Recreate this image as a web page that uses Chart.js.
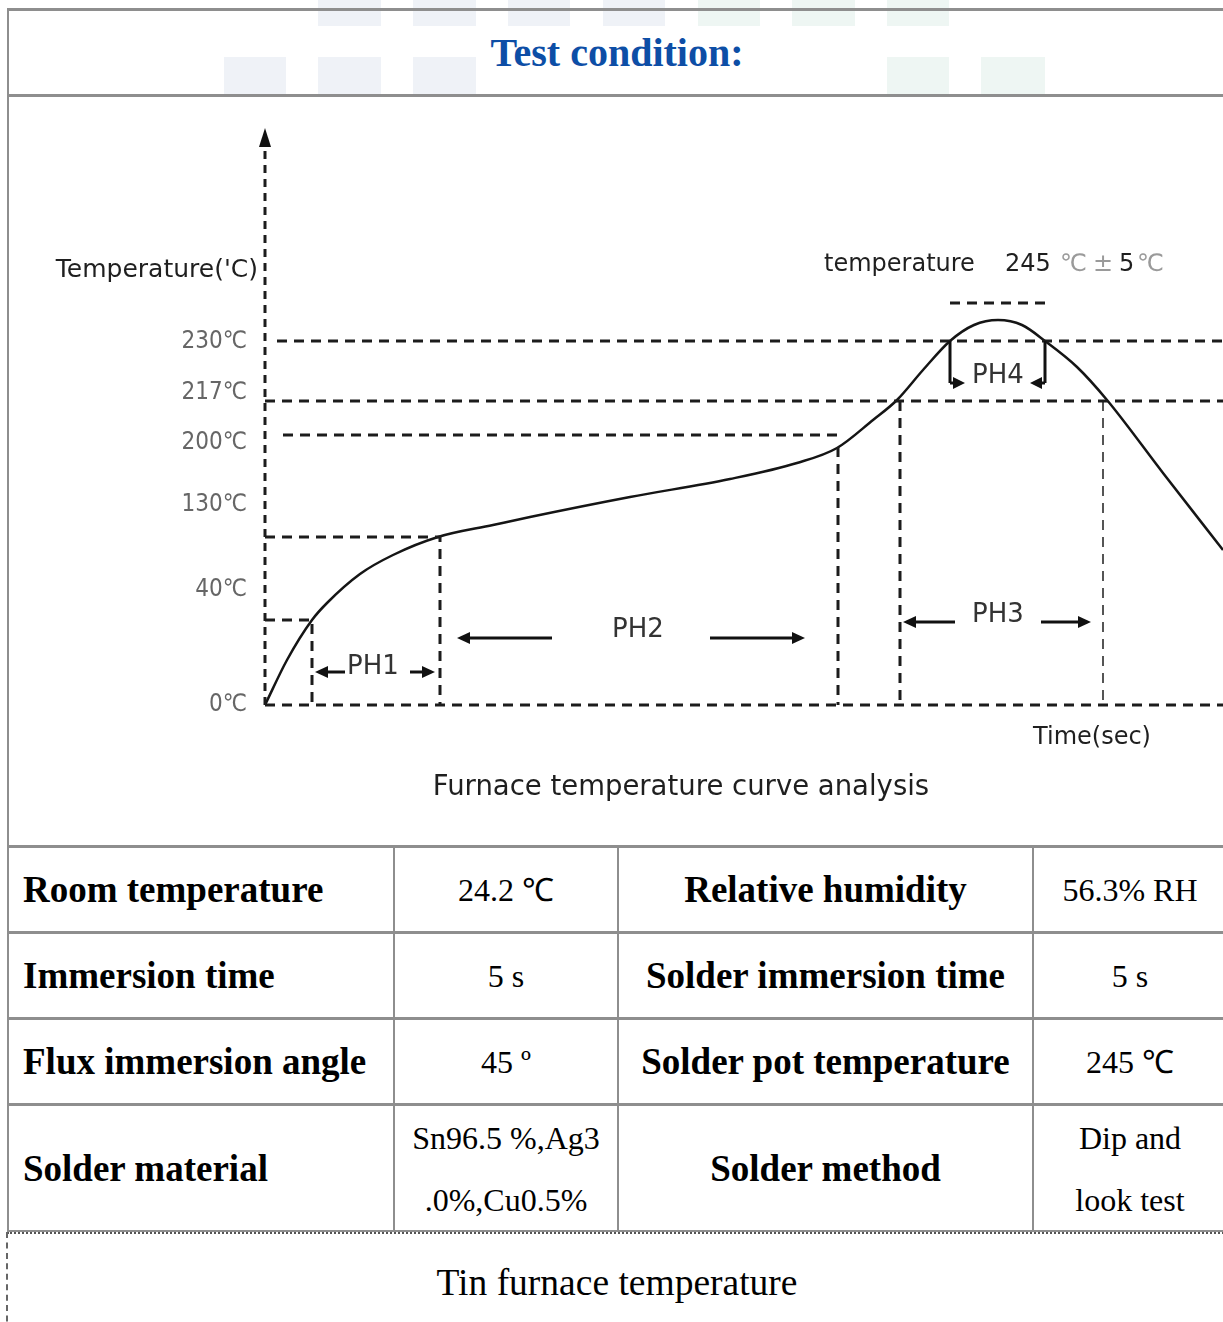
<!DOCTYPE html>
<html>
<head>
<meta charset="utf-8">
<title>Test condition</title>
<script src="https://cdn.jsdelivr.net/npm/chart.js@4.4.1/dist/chart.umd.min.js"></script>
<style>
  html, body { margin: 0; padding: 0; background: #fff; overflow: hidden; }
  body { position: relative; width: 1223px; height: 1322px; font-family: "Liberation Serif", "Times New Roman", serif; }
  .mark { position: absolute; background: #eff2f7; }
  .mark.g { background: #eef6f3; }
  .h { position: absolute; left: 7px; width: 1240px; height: 3px; background: #8e8e8e; }
  .v { position: absolute; width: 2px; background: #8e8e8e; }
  .cell { position: absolute; display: flex; flex-direction: column; align-items: center; justify-content: center;
          text-align: center; color: #000; font-size: 32px; line-height: 62px; }
  .cell.lab { align-items: flex-start; padding-left: 16px; box-sizing: border-box; font-weight: bold; font-size: 37px; }
  .cell.b { font-weight: bold; font-size: 37px; }
  #title { position: absolute; left: 7px; top: 11px; width: 1220px; height: 83px; display: flex; align-items: center;
           justify-content: center; font-weight: bold; font-size: 40px; color: #0d4ea6; }
  #chartBox { position: absolute; left: 0; top: 98px; width: 1223px; height: 746px; }
  #foot { position: absolute; left: 7px; top: 1234px; width: 1220px; height: 98px; display: flex; align-items: center;
          justify-content: center; font-size: 37.5px; padding-bottom: 2px; box-sizing: border-box; }
  #footTop { position: absolute; left: 7px; top: 1232px; width: 1240px; height: 0; border-top: 2px dotted #555; }
  #footLeft { position: absolute; left: 6px; top: 1232px; width: 0; height: 100px; border-left: 2px dashed #666; }
</style>
</head>
<body>

<!-- faint watermark blocks -->
<div class="mark" style="left:318px;top:0;width:63px;height:26px"></div>
<div class="mark" style="left:413px;top:0;width:63px;height:26px"></div>
<div class="mark" style="left:508px;top:0;width:62px;height:26px"></div>
<div class="mark" style="left:603px;top:0;width:62px;height:26px"></div>
<div class="mark g" style="left:698px;top:0;width:62px;height:26px"></div>
<div class="mark g" style="left:792px;top:0;width:63px;height:26px"></div>
<div class="mark g" style="left:887px;top:0;width:62px;height:26px"></div>
<div class="mark" style="left:224px;top:57px;width:62px;height:40px"></div>
<div class="mark" style="left:318px;top:57px;width:63px;height:40px"></div>
<div class="mark" style="left:413px;top:57px;width:63px;height:40px"></div>
<div class="mark g" style="left:887px;top:57px;width:62px;height:40px"></div>
<div class="mark g" style="left:981px;top:57px;width:64px;height:40px"></div>

<div id="title">Test condition:</div>

<div id="chartBox"><canvas id="furnace"></canvas></div>

<div class="cell lab" style="left:7px;top:848px;width:387px;height:84px">Room temperature</div>
<div class="cell" style="left:394px;top:848px;width:224px;height:84px">24.2 ℃</div>
<div class="cell b" style="left:618px;top:848px;width:415px;height:84px">Relative humidity</div>
<div class="cell" style="left:1033px;top:848px;width:194px;height:84px">56.3% RH</div>

<div class="cell lab" style="left:7px;top:934px;width:387px;height:84px">Immersion time</div>
<div class="cell" style="left:394px;top:934px;width:224px;height:84px">5 s</div>
<div class="cell b" style="left:618px;top:934px;width:415px;height:84px">Solder immersion time</div>
<div class="cell" style="left:1033px;top:934px;width:194px;height:84px">5 s</div>

<div class="cell lab" style="left:7px;top:1020px;width:387px;height:84px">Flux immersion angle</div>
<div class="cell" style="left:394px;top:1020px;width:224px;height:84px">45 º</div>
<div class="cell b" style="left:618px;top:1020px;width:415px;height:84px">Solder pot temperature</div>
<div class="cell" style="left:1033px;top:1020px;width:194px;height:84px">245 ℃</div>

<div class="cell lab" style="left:7px;top:1106px;width:387px;height:126px">Solder material</div>
<div class="cell" style="left:394px;top:1106px;width:224px;height:126px"><span>Sn96.5 %,Ag3</span><span>.0%,Cu0.5%</span></div>
<div class="cell b" style="left:618px;top:1106px;width:415px;height:126px">Solder method</div>
<div class="cell" style="left:1033px;top:1106px;width:194px;height:126px"><span>Dip and</span><span>look test</span></div>

<div id="foot">Tin furnace temperature</div>

<!-- table rules -->
<div class="h" style="top:8px"></div>
<div class="h" style="top:94px"></div>
<div class="h" style="top:845px"></div>
<div class="h" style="top:931px"></div>
<div class="h" style="top:1017px"></div>
<div class="h" style="top:1103px"></div>
<div class="h" style="top:1230px;height:2px"></div>
<div class="v" style="left:7px;top:8px;height:1224px"></div>
<div class="v" style="left:393px;top:845px;height:387px"></div>
<div class="v" style="left:617px;top:845px;height:387px"></div>
<div class="v" style="left:1032px;top:845px;height:387px"></div>
<div id="footTop"></div>
<div id="footLeft"></div>

<script>
// furnace profile in schematic units: time along x, height above the 0℃ line along y
const curveTime = [0, 22, 47, 62, 95, 128, 173, 228, 265, 365, 465, 532, 572, 608, 632, 658, 685, 709, 733, 757, 780, 812, 842, 898, 958];
const curveTemp = [0, 45, 85, 102, 131, 150, 168, 180, 188, 208, 226, 242, 257, 285, 305, 335, 364, 380, 385, 380, 364, 338, 305, 232, 155];

// y axis tick levels and labels
const tickLevels = [0, 115, 200, 262, 312, 363];
const tickLabels = ['0℃', '40℃', '130℃', '200℃', '217℃', '230℃'];

// dashed axes and guide lines [time, level]
const axisY = [[0, 0], [0, 560]];
const axisX = [[0, 0], [958, 0]];
const line230 = [[12, 364], [958, 364]];
const line217 = [[0, 304], [958, 304]];
const line200 = [[18, 270], [573, 270]];
const ph1Box = [[0, 85], [47, 85], [47, 0]];
const ph2Box = [[0, 168], [175, 168], [175, 0]];
const soakEnd = [[573, 258], [573, 0]];
const reflowStart = [[635, 304], [635, 0]];
const reflowEnd = [[838, 304], [838, 0]];
const peakCap = [[685, 402], [785, 402]];

// phase labels and arrows
const phNames = ['PH1', 'PH2', 'PH3', 'PH4'];
const phLabelAt = [[108, 38], [373, 75], [733, 90], [733, 329]];
const phArrows = [
  [80, 33, 50, 33], [145, 33, 170, 33],
  [287, 67, 192, 67], [445, 67, 540, 67],
  [690, 83, 638, 83], [776, 83, 826, 83]
];
const ph4Brackets = [
  [[685, 364], [685, 322], [700, 322]],
  [[780, 364], [780, 322], [765, 322]]
];

const pts = arr => arr.map(p => ({ x: p[0], y: p[1] }));
const dashed = (arr, w, c, dash) => ({
  data: pts(arr), borderColor: c || '#1c1c1c', borderWidth: w || 3, borderDash: dash || [10, 7],
  pointRadius: 0, tension: 0, fill: false, clip: false
});

const curve = {
  data: curveTime.map((t, i) => ({ x: t, y: curveTemp[i] })),
  borderColor: '#151515', borderWidth: 2.5, pointRadius: 0,
  cubicInterpolationMode: 'monotone', fill: false
};

const sans = '"DejaVu Sans", Verdana, sans-serif';

function arrow(ctx, x1, y1, x2, y2, head) {
  const a = Math.atan2(y2 - y1, x2 - x1);
  ctx.beginPath();
  ctx.moveTo(x1, y1);
  ctx.lineTo(x2 - Math.cos(a) * head * 0.6, y2 - Math.sin(a) * head * 0.6);
  ctx.stroke();
  ctx.beginPath();
  ctx.moveTo(x2, y2);
  ctx.lineTo(x2 - head * Math.cos(a) + 6 * Math.sin(a), y2 - head * Math.sin(a) - 6 * Math.cos(a));
  ctx.lineTo(x2 - head * Math.cos(a) - 6 * Math.sin(a), y2 - head * Math.sin(a) + 6 * Math.cos(a));
  ctx.closePath();
  ctx.fill();
}

const overlay = {
  id: 'overlay',
  afterDatasetsDraw(chart) {
    const { ctx, scales: { x, y } } = chart;
    const X = v => x.getPixelForValue(v);
    const Y = v => y.getPixelForValue(v);
    ctx.save();
    ctx.fillStyle = '#111';
    ctx.strokeStyle = '#111';
    ctx.lineWidth = 3;

    // axis arrow head
    ctx.beginPath();
    ctx.moveTo(X(0), Y(577));
    ctx.lineTo(X(0) - 6, Y(558));
    ctx.lineTo(X(0) + 6, Y(558));
    ctx.closePath();
    ctx.fill();

    phArrows.forEach(a => arrow(ctx, X(a[0]), Y(a[1]), X(a[2]), Y(a[3]), 13));

    ph4Brackets.forEach(b => {
      ctx.beginPath();
      ctx.moveTo(X(b[0][0]), Y(b[0][1]));
      ctx.lineTo(X(b[1][0]), Y(b[1][1]));
      ctx.stroke();
      arrow(ctx, X(b[1][0]), Y(b[1][1]), X(b[2][0]), Y(b[2][1]), 12);
    });

    ctx.textBaseline = 'middle';
    ctx.textAlign = 'center';
    ctx.font = '26px ' + sans;
    ctx.fillStyle = '#333';
    phNames.forEach((n, i) => ctx.fillText(n, X(phLabelAt[i][0]), Y(phLabelAt[i][1])));

    ctx.fillStyle = '#1f1f1f';
    ctx.font = '25px ' + sans;
    ctx.textAlign = 'right';
    ctx.fillText("Temperature('C)", X(-7), Y(435));
    ctx.font = '24px ' + sans;
    ctx.textAlign = 'left';
    ctx.fillText('temperature', X(559), Y(440));
    ctx.fillText('245', X(740), Y(440));
    ctx.fillText('5', X(854), Y(440));
    ctx.fillStyle = '#9a9a9a';
    ctx.fillText('℃', X(795), Y(440));
    ctx.fillText('±', X(828), Y(440));
    ctx.fillText('℃', X(872), Y(440));
    ctx.fillStyle = '#1f1f1f';
    ctx.textAlign = 'center';
    ctx.fillText('Time(sec)', X(827), Y(-33));
    ctx.font = '27.5px ' + sans;
    ctx.fillText('Furnace temperature curve analysis', X(416), Y(-83));
    ctx.restore();
  }
};

new Chart(document.getElementById('furnace'), {
  type: 'line',
  data: {
    datasets: [
      dashed(axisY, 3, '#1c1c1c', [8, 6]), dashed(axisX),
      dashed(line230), dashed(line217), dashed(line200),
      dashed(ph1Box), dashed(ph2Box), dashed(soakEnd), dashed(reflowStart),
      dashed(reflowEnd, 2, '#555'), dashed(peakCap),
      curve
    ]
  },
  options: {
    responsive: true,
    maintainAspectRatio: false,
    animation: false,
    devicePixelRatio: 1,
    layout: { padding: { top: 32, right: 0, left: 0, bottom: 0 } },
    plugins: { legend: { display: false }, tooltip: { enabled: false } },
    scales: {
      x: {
        type: 'linear', min: 0, max: 958,
        grid: { display: false },
        ticks: { display: false },
        border: { display: false },
        afterFit: s => { s.height = 139; }
      },
      y: {
        type: 'linear', min: 0, max: 575,
        grid: { display: false },
        border: { display: false },
        ticks: {
          padding: 10,
          color: '#666',
          font: { family: '"DejaVu Sans Condensed", "Liberation Sans Narrow", sans-serif', size: 24 },
          callback: (v, i) => tickLabels[i]
        },
        afterBuildTicks: s => { s.ticks = tickLevels.map(v => ({ value: v })); },
        afterFit: s => { s.width = 265; }
      }
    }
  },
  plugins: [overlay]
});
</script>
</body>
</html>
